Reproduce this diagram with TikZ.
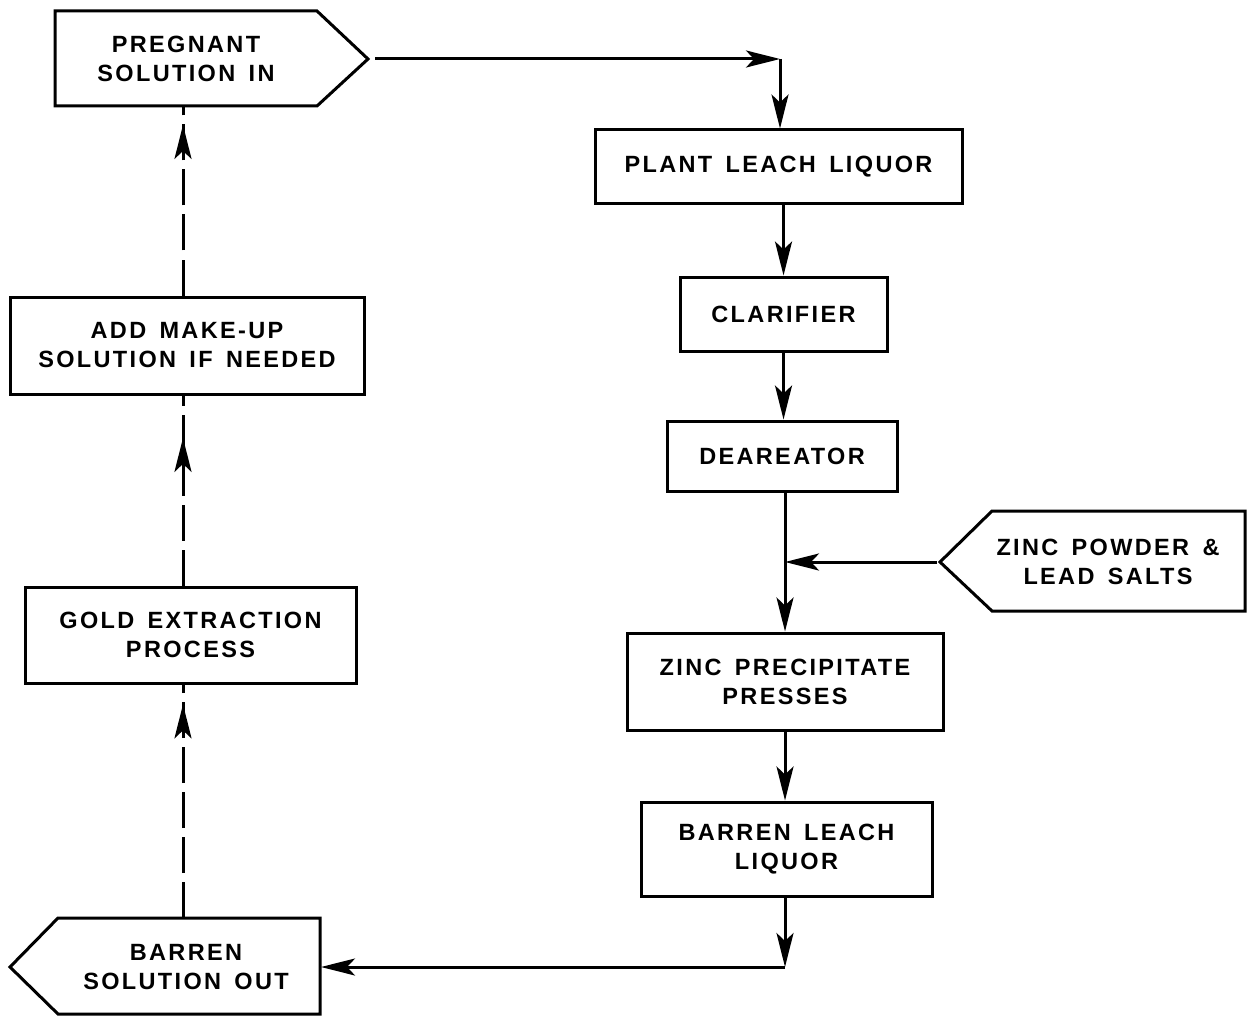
\documentclass[tikz,border=0pt]{standalone}
\usepackage{fontspec}
\newfontfamily\lab[LetterSpace=10,WordSpace=1.5]{Liberation Sans}
\usetikzlibrary{arrows.meta,decorations.markings}
\begin{document}
\begin{tikzpicture}[x=1pt,y=-1pt,
  txt/.style={font=\lab\bfseries\fontsize{23.5}{29}\selectfont, align=center, inner sep=0pt},
  box/.style={txt, draw, line width=3pt},
  shp/.style={draw, line width=3pt, line join=miter},
  arr/.style={line width=3pt, -{Stealth[length=34pt,width=17pt,inset=8pt]}},
  dasharr/.style={line width=3pt, dash pattern=on 36pt off 9pt, postaction={decorate},
    decoration={markings, mark=at position #1 with {\arrow{Stealth[length=34pt,width=17pt,inset=8pt]}}}}
]
\fill[white] (0,0) rectangle (1249,1016);
\useasboundingbox (0,0) rectangle (1249,1016);

% pentagons
\draw[shp] (55,11) -- (317,11) -- (368,59) -- (317,106) -- (55,106) -- cycle;
\node[txt] (preg) at (186,59) {PREGNANT\\SOLUTION IN};
\coordinate (pregtip) at (375,59);
\coordinate (pregbot) at (183,106);

\draw[shp] (1245,511) -- (992,511) -- (940,562) -- (992,611) -- (1245,611) -- cycle;
\node[txt] (zincp) at (1108,562) {ZINC POWDER \&\\LEAD SALTS};
\coordinate (zinctip) at (937,562);

\draw[shp] (320,918) -- (58,918) -- (10,967) -- (58,1014) -- (320,1014) -- cycle;
\node[txt] (bso) at (186,967) {BARREN\\SOLUTION OUT};
\coordinate (bsoE) at (321,967);
\coordinate (bsotop) at (183,918);

% boxes
\node[box, minimum width=367pt, minimum height=74pt] (plant) at (778.5,167) {PLANT LEACH LIQUOR};
\node[box, minimum width=207pt, minimum height=74pt] (clar) at (783.5,314) {CLARIFIER};
\node[box, minimum width=230pt, minimum height=70pt] (dear) at (782,456) {DEAREATOR};
\node[box, minimum width=316pt, minimum height=97pt] (zp) at (785,681.5) {ZINC PRECIPITATE\\PRESSES};
\node[box, minimum width=291pt, minimum height=94pt] (bl) at (786.5,849) {BARREN LEACH\\LIQUOR};
\node[box, minimum width=331pt, minimum height=96pt] (gold) at (190.5,635) {GOLD EXTRACTION\\PROCESS};
\node[box, minimum width=354pt, minimum height=97pt] (add) at (187,345.5) {ADD MAKE-UP\\SOLUTION IF NEEDED};

\coordinate (c1) at (780,59);
\coordinate (j) at (785,562);
\coordinate (c2) at (785,967);

% connectors
\draw[arr] (pregtip) -- (c1);
\draw[arr] (c1) -- (c1 |- plant.north);
\draw[arr] (plant.south -| clar.north) -- (clar.north);
\draw[arr] (clar.south) -- (clar.south |- dear.north);
\draw[arr] (dear.south -| j) -- (zp.north -| j);
\draw[arr] (zinctip) -- (j);
\draw[arr] (zp.south -| j) -- (bl.north -| j);
\draw[arr] (bl.south -| c2) -- (c2);
\draw[arr] (c2) -- (bsoE);

\draw[dasharr=0.915] (bsotop) -- (bsotop |- gold.south);
\draw[dasharr=0.777] (gold.north -| bsotop) -- (add.south -| bsotop);
\draw[dasharr=0.9] (add.north -| bsotop) -- (pregbot);
\end{tikzpicture}
\end{document}
